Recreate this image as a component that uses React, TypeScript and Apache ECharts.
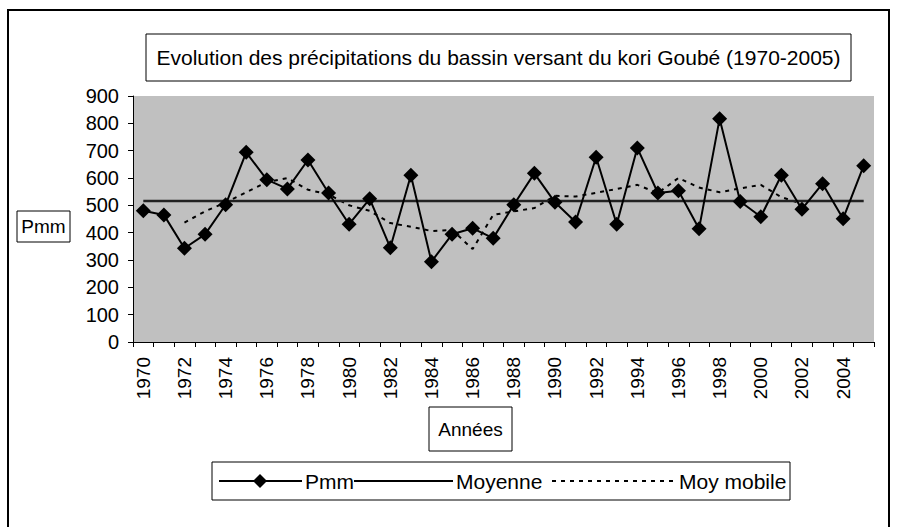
import React, { useEffect, useRef } from "react";
import * as echarts from "echarts";

const years = [
  "1970","1971","1972","1973","1974","1975","1976","1977","1978","1979",
  "1980","1981","1982","1983","1984","1985","1986","1987","1988","1989",
  "1990","1991","1992","1993","1994","1995","1996","1997","1998","1999",
  "2000","2001","2002","2003","2004","2005",
];
const pmm = [
  480, 465, 343, 394, 502, 694, 594, 560, 666, 545,
  431, 524, 345, 610, 294, 394, 416, 380, 502, 617,
  511, 439, 676, 431, 710, 545, 553, 414, 817, 514,
  458, 610, 486, 579, 451, 645,
];
const moyenne = 516;
const moyMobile: (number | null)[] = [
  null, null, 437, 478, 510, 548, 585, 600, 557, 540,
  500, 480, 435, 422, 406, 410, 340, 465, 478, 490,
  535, 532, 546, 560, 575, 545, 600, 565, 548, 562,
  575, 530, 505, null, null, null,
];
const yTicks = { min: 0, max: 900, interval: 100 };

const FONT = "'Liberation Sans', Arial, sans-serif";

export default function App() {
  const ref = useRef<HTMLDivElement>(null);
  useEffect(() => {
    document.body.style.margin = "0";
    const chart = echarts.init(ref.current!, undefined, { renderer: "svg" });
    const legendY = 481;
    chart.setOption({
      animation: false,
      backgroundColor: "#fff",
      textStyle: { fontFamily: FONT },
      grid: {
        left: 133, right: 23, top: 96, bottom: 185,
        show: true, backgroundColor: "#C0C0C0", borderWidth: 0,
      },
      xAxis: {
        type: "category",
        data: years,
        boundaryGap: true,
        axisLine: { lineStyle: { color: "#000", width: 1 } },
        axisTick: { show: true, interval: 0, length: 5, lineStyle: { color: "#000" } },
        axisLabel: {
          interval: 1, rotate: 90, fontSize: 19, color: "#000", fontFamily: FONT, margin: 15,
        },
      },
      yAxis: {
        type: "value",
        min: yTicks.min, max: yTicks.max, interval: yTicks.interval,
        axisLine: { show: true, lineStyle: { color: "#000", width: 1 } },
        axisTick: { show: true, length: 5, lineStyle: { color: "#000" } },
        splitLine: { show: false },
        axisLabel: { fontSize: 20, color: "#000", fontFamily: FONT, margin: 14 },
      },
      series: [
        {
          name: "Moy mobile", type: "line", data: moyMobile, showSymbol: false,
          lineStyle: { color: "#000", width: 2, type: [4, 5] }, z: 2,
        },
        {
          name: "Moyenne", type: "line", data: years.map(() => moyenne), showSymbol: false,
          lineStyle: { color: "#222", width: 2.5 }, z: 3,
        },
        {
          name: "Pmm", type: "line", data: pmm, symbol: "diamond", symbolSize: 15,
          showSymbol: true, showAllSymbol: true,
          itemStyle: { color: "#000" }, lineStyle: { color: "#000", width: 2 }, z: 4,
        },
      ],
      graphic: [
        { type: "rect", shape: { x: 8, y: 10, width: 881, height: 530 },
          style: { fill: "none", stroke: "#000", lineWidth: 2 }, z: 10 },
        { type: "rect", shape: { x: 146, y: 34, width: 705, height: 47 },
          style: { fill: "#fff", stroke: "#000", lineWidth: 1 }, z: 10 },
        { type: "text", x: 498.5, y: 57.5, z: 11,
          style: { text: "Evolution des précipitations du bassin versant du kori Goubé (1970-2005)",
            font: `21px ${FONT}`, fill: "#000", align: "center", verticalAlign: "middle" } },
        { type: "rect", shape: { x: 17, y: 211, width: 53, height: 31 },
          style: { fill: "#fff", stroke: "#000", lineWidth: 1 }, z: 10 },
        { type: "text", x: 43.5, y: 226.5, z: 11,
          style: { text: "Pmm", font: `19px ${FONT}`, fill: "#000", align: "center", verticalAlign: "middle" } },
        { type: "rect", shape: { x: 429, y: 407, width: 83, height: 44 },
          style: { fill: "#fff", stroke: "#000", lineWidth: 1 }, z: 10 },
        { type: "text", x: 470.5, y: 429, z: 11,
          style: { text: "Années", font: `19px ${FONT}`, fill: "#000", align: "center", verticalAlign: "middle" } },
        { type: "rect", shape: { x: 212, y: 462, width: 578, height: 38 },
          style: { fill: "#fff", stroke: "#000", lineWidth: 1 }, z: 10 },
        { type: "line", shape: { x1: 219, y1: legendY, x2: 302, y2: legendY },
          style: { stroke: "#000", lineWidth: 2 }, z: 11 },
        { type: "polygon", shape: { points: [[260, legendY - 7], [267, legendY], [260, legendY + 7], [253, legendY]] },
          style: { fill: "#000" }, z: 12 },
        { type: "text", x: 305, y: legendY, z: 11,
          style: { text: "Pmm", font: `21px ${FONT}`, fill: "#000", align: "left", verticalAlign: "middle" } },
        { type: "line", shape: { x1: 354, y1: legendY, x2: 453, y2: legendY },
          style: { stroke: "#000", lineWidth: 2 }, z: 11 },
        { type: "text", x: 456, y: legendY, z: 11,
          style: { text: "Moyenne", font: `21px ${FONT}`, fill: "#000", align: "left", verticalAlign: "middle" } },
        { type: "line", shape: { x1: 552, y1: legendY, x2: 674, y2: legendY },
          style: { stroke: "#000", lineWidth: 2, lineDash: [4, 5] }, z: 11 },
        { type: "text", x: 679, y: legendY, z: 11,
          style: { text: "Moy mobile", font: `21px ${FONT}`, fill: "#000", align: "left", verticalAlign: "middle" } },
      ],
    });
    return () => chart.dispose();
  }, []);
  return <div ref={ref} style={{ width: 897, height: 527 }} />;
}
